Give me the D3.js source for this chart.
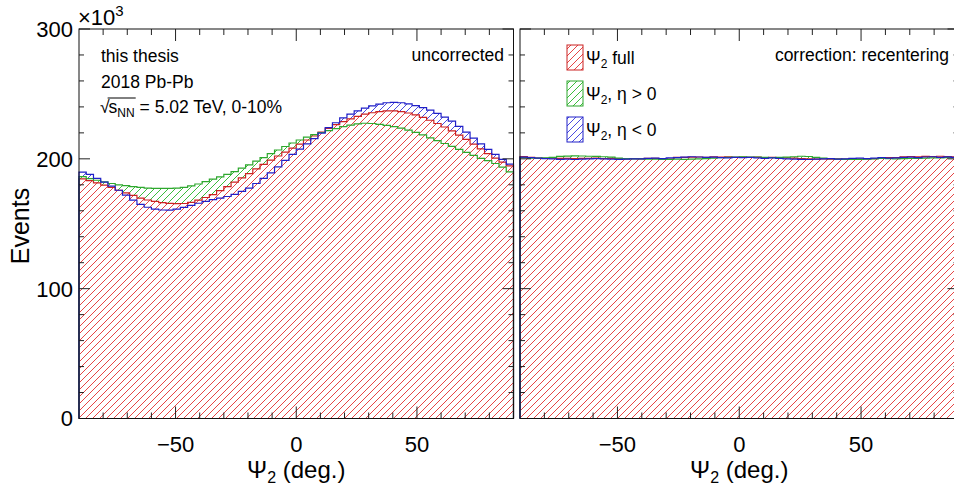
<!DOCTYPE html>
<html>
<head>
<meta charset="utf-8">
<script src="https://cdn.jsdelivr.net/npm/d3@7"></script>
<style>
  body { margin: 0; background: #fff; }
  text { font-family: "Liberation Sans", Arial, sans-serif; fill: #000; }
</style>
</head>
<body>
<script>
// binning: 60 bins of 3 deg from -90 to 90
const binWidth = 3;
const binLow = d3.range(-90, 90, binWidth);

// values in units of 10^3 events
// left panel: uncorrected
const rawFull = [184.5, 183.2, 181.5, 179.8, 178.0, 175.8, 173.8, 171.8, 169.8, 168.3,
  167.2, 166.2, 165.7, 165.5, 165.6, 166.5, 168.2, 170.2, 172.5, 175.5,
  178.6, 182.0, 185.3, 188.6, 192.2, 195.8, 199.0, 202.2, 205.2, 208.3,
  211.4, 214.5, 217.6, 220.5, 223.4, 226.3, 228.7, 230.8, 232.7, 234.4,
  235.5, 236.4, 236.9, 237.0, 236.4, 235.3, 233.8, 232.0, 229.7, 227.2,
  224.5, 221.5, 218.3, 215.0, 211.3, 207.6, 204.0, 200.6, 197.5, 194.5];
const rawEtaPos = [186.3, 184.8, 183.5, 182.3, 181.0, 180.0, 179.3, 178.6, 178.0, 177.5,
  177.3, 177.2, 177.2, 177.4, 178.0, 179.1, 180.6, 182.5, 184.3, 186.1,
  188.0, 190.2, 192.8, 195.4, 198.2, 201.0, 204.0, 206.8, 209.5, 212.2,
  214.5, 216.7, 218.6, 220.3, 221.8, 223.3, 224.8, 226.0, 227.0, 227.4,
  227.2, 226.6, 225.8, 224.8, 223.6, 222.1, 220.4, 218.4, 216.2, 214.0,
  211.8, 209.6, 207.3, 205.0, 202.6, 200.4, 198.6, 196.4, 193.6, 190.0];
const rawEtaNeg = [189.8, 188.0, 185.0, 182.0, 179.0, 175.8, 172.0, 168.2, 165.0, 162.7,
  161.2, 160.6, 160.5, 161.2, 162.6, 164.2, 165.8, 167.3, 168.6, 169.8,
  171.0, 172.7, 175.0, 177.5, 181.0, 185.0, 189.2, 193.8, 198.8, 203.5,
  207.5, 211.5, 215.6, 219.8, 224.0, 227.8, 231.5, 234.5, 237.0, 239.0,
  240.8, 242.2, 243.2, 243.5, 243.2, 242.3, 241.0, 239.5, 237.5, 235.0,
  232.2, 229.0, 225.0, 220.5, 216.0, 211.5, 207.3, 203.4, 199.6, 196.0];

// right panel: after recentering
const recFull = [201.8, 201.2, 200.6, 200.4, 200.5, 200.3, 200.4, 200.2, 200.4, 200.3,
  200.5, 200.2, 200.3, 200.1, 200.0, 200.2, 199.9, 200.3, 200.4, 199.6,
  199.7, 201.1, 201.2, 201.3, 201.4, 201.2, 201.5, 201.3, 201.6, 201.2,
  201.4, 201.1, 201.3, 201.0, 201.2, 200.9, 200.8, 200.6, 200.2, 199.9,
  199.8, 199.9, 199.7, 199.9, 199.8, 200.0, 199.7, 199.9, 200.1, 200.6,
  201.0, 200.9, 201.6, 201.8, 201.5, 201.9, 201.7, 202.0, 201.8, 201.6];
const recEtaPos = [201.0, 200.6, 200.5, 200.7, 201.2, 201.9, 202.1, 202.3, 202.2, 202.0,
  201.9, 201.6, 201.3, 200.6, 200.2, 200.0, 199.9, 199.8, 199.7, 199.5,
  199.6, 199.7, 199.6, 199.8, 200.0, 200.2, 200.6, 201.0, 201.2, 201.4,
  201.5, 201.3, 201.4, 201.2, 201.0, 201.1, 201.3, 201.6, 202.0, 201.8,
  201.2, 200.6, 200.1, 199.8, 199.6, 199.5, 199.6, 199.8, 200.0, 200.3,
  200.2, 199.9, 200.1, 200.3, 200.4, 200.6, 200.8, 200.7, 201.0, 200.9];
const recEtaNeg = [201.3, 200.9, 200.5, 200.1, 199.9, 199.6, 199.7, 199.5, 199.8, 199.9,
  200.2, 200.0, 199.8, 199.6, 199.7, 199.9, 200.0, 200.4, 200.6, 200.2,
  200.8, 201.0, 201.3, 201.6, 201.4, 201.1, 201.3, 201.0, 200.8, 201.1,
  200.9, 201.2, 200.7, 200.4, 200.8, 200.3, 200.0, 199.8, 199.6, 199.5,
  199.7, 199.9, 200.1, 199.8, 200.0, 200.3, 200.5, 200.2, 200.6, 200.9,
  200.5, 200.8, 201.1, 201.3, 201.0, 201.4, 201.6, 201.2, 201.5, 201.2];

const xMajor = [-50, 0, 50];
const xTicks = [-80, -70, -60, -50, -40, -30, -20, -10, 0, 10, 20, 30, 40, 50, 60, 70, 80];
const yMajor = [0, 100, 200, 300];
const yTicks = [0, 20, 40, 60, 80, 100, 120, 140, 160, 180, 200, 220, 240, 260, 280, 300];

const legendLabels = [', η > 0', ', η < 0'];

const width = 954;
const height = 490;

const colors = {
  full: { line: '#cc2222', hatch: '#e64545' },
  pos: { line: '#2ea82e', hatch: '#3cbc3c' },
  neg: { line: '#2020c8', hatch: '#4a4ae0' },
};

const y = d3.scaleLinear().domain([0, 300]).range([418.5, 29]);
const xLeft = d3.scaleLinear().domain([-90, 90]).range([79, 513.5]);
const xRight = d3.scaleLinear().domain([-90, 90]).range([520, 958.5]);

const svg = d3.select('body').append('svg')
  .attr('width', width)
  .attr('height', height);

const defs = svg.append('defs');

// diagonal hatch patterns, one per colour
function hatch(id, color) {
  const p = defs.append('pattern')
    .attr('id', id)
    .attr('patternUnits', 'userSpaceOnUse')
    .attr('width', 7)
    .attr('height', 7);
  p.append('path')
    .attr('d', 'M-1,1 l2,-2 M0,7 l7,-7 M6,8 l2,-2')
    .attr('stroke', color)
    .attr('stroke-width', 1);
}
hatch('h-full', colors.full.hatch);
hatch('h-pos', colors.pos.hatch);
hatch('h-neg', colors.neg.hatch);

function stepPoints(vals) {
  const pts = [[-90, 0]];
  vals.forEach((v, i) => {
    pts.push([binLow[i], v]);
    pts.push([binLow[i] + binWidth, v]);
  });
  pts.push([90, 0]);
  return pts;
}

function drawPanel(x, full, pos, neg) {
  const line = d3.line().x(d => x(d[0])).y(d => y(d[1]));
  const g = svg.append('g');

  // hatched fills, red one last so it sits on top
  [[neg, 'h-neg'], [pos, 'h-pos'], [full, 'h-full']].forEach(([vals, pat]) => {
    g.append('path')
      .attr('d', line(stepPoints(vals)) + 'Z')
      .attr('fill', `url(#${pat})`);
  });
  // outlines
  [[full, colors.full.line], [pos, colors.pos.line], [neg, colors.neg.line]].forEach(([vals, c]) => {
    g.append('path')
      .attr('d', line(stepPoints(vals)))
      .attr('fill', 'none')
      .attr('stroke', c)
      .attr('stroke-width', 1.2);
  });

  const x0 = x.range()[0];
  const x1 = x.range()[1];
  const yb = y(0);
  const yt = y(300);
  const ax = svg.append('g').attr('stroke', '#222').attr('stroke-width', 1);

  // x ticks, bottom and top, pointing inwards
  xTicks.forEach((t) => {
    const len = xMajor.includes(t) ? 12 : 6;
    ax.append('line').attr('x1', x(t)).attr('x2', x(t)).attr('y1', yb).attr('y2', yb - len);
    ax.append('line').attr('x1', x(t)).attr('x2', x(t)).attr('y1', yt).attr('y2', yt + len);
  });
  // y ticks, both sides
  yTicks.forEach((t) => {
    const len = yMajor.includes(t) ? 11 : 5;
    ax.append('line').attr('x1', x0).attr('x2', x0 + len).attr('y1', y(t)).attr('y2', y(t));
    ax.append('line').attr('x1', x1).attr('x2', x1 - len).attr('y1', y(t)).attr('y2', y(t));
  });

  // frame
  svg.append('rect')
    .attr('x', x0).attr('y', yt)
    .attr('width', x1 - x0).attr('height', yb - yt)
    .attr('fill', 'none')
    .attr('stroke', '#111')
    .attr('stroke-width', 1);

  // x tick labels
  svg.append('g').selectAll('text')
    .data(xMajor)
    .enter().append('text')
    .attr('x', d => x(d))
    .attr('y', 452)
    .attr('text-anchor', 'middle')
    .attr('font-size', '22px')
    .text(d => (d < 0 ? '\u2212' + Math.abs(d) : d));

  // x title
  const xt = svg.append('text')
    .attr('x', x(0))
    .attr('y', 478)
    .attr('text-anchor', 'middle')
    .attr('font-size', '24px');
  xt.append('tspan').text('\u03A8');
  xt.append('tspan').attr('font-size', '16px').attr('dy', 5).text('2');
  xt.append('tspan').attr('dy', -5).text(' (deg.)');
}

drawPanel(xLeft, rawFull, rawEtaPos, rawEtaNeg);
drawPanel(xRight, recFull, recEtaPos, recEtaNeg);

// y tick labels (left panel only)
svg.append('g').selectAll('text')
  .data(yMajor)
  .enter().append('text')
  .attr('x', 73)
  .attr('y', d => y(d))
  .attr('dy', '0.36em')
  .attr('text-anchor', 'end')
  .attr('font-size', '22px')
  .text(d => d);

const expo = svg.append('text')
  .attr('x', 78)
  .attr('y', 25)
  .attr('font-size', '22px');
expo.append('tspan').text('\u00D710');
expo.append('tspan').attr('font-size', '15px').attr('dy', -9).text('3');

// y title
svg.append('text')
  .attr('transform', `translate(29,226) rotate(-90)`)
  .attr('text-anchor', 'middle')
  .attr('font-size', '25px')
  .text('Events');

// panel annotations
const fs = '17.5px';
svg.append('text').attr('x', 101).attr('y', 62).attr('font-size', fs).text('this thesis');
svg.append('text').attr('x', 101).attr('y', 88).attr('font-size', fs).text('2018 Pb-Pb');

const sq = svg.append('text').attr('x', 100).attr('y', 113).attr('font-size', fs);
sq.append('tspan').text('\u221A');
const sqArg = sq.append('tspan').attr('dx', -1);
sqArg.append('tspan').text('s');
sqArg.append('tspan').attr('font-size', '12px').attr('dy', 4).text('NN');
sq.append('tspan').attr('dy', -4).text(' = 5.02 TeV, 0-10%');
// overline of the root sign
{
  const node = sq.node();
  const start = node.getStartPositionOfChar(1).x;
  const end = node.getEndPositionOfChar(3).x;
  svg.append('line')
    .attr('x1', start - 1).attr('x2', end + 1)
    .attr('y1', 98).attr('y2', 98)
    .attr('stroke', '#000').attr('stroke-width', 1);
}

svg.append('text').attr('x', 504).attr('y', 61).attr('text-anchor', 'end')
  .attr('font-size', fs).text('uncorrected');
svg.append('text').attr('x', 949).attr('y', 61).attr('text-anchor', 'end')
  .attr('font-size', fs).text('correction: recentering');

// legend
const legend = [
  { pat: 'h-full', line: colors.full.line, suffix: ' full' },
  { pat: 'h-pos', line: colors.pos.line, suffix: legendLabels[0] },
  { pat: 'h-neg', line: colors.neg.line, suffix: legendLabels[1] },
];
legend.forEach((d, i) => {
  const top = 45 + i * 36;
  svg.append('rect')
    .attr('x', 567).attr('y', top)
    .attr('width', 16).attr('height', 25)
    .attr('fill', `url(#${d.pat})`)
    .attr('stroke', d.line)
    .attr('stroke-width', 1);
  const t = svg.append('text')
    .attr('x', 586).attr('y', top + 19)
    .attr('font-size', fs);
  t.append('tspan').text('\u03A8');
  t.append('tspan').attr('font-size', '12px').attr('dy', 4).text('2');
  t.append('tspan').attr('dy', -4).text(d.suffix);
});
</script>
</body>
</html>
